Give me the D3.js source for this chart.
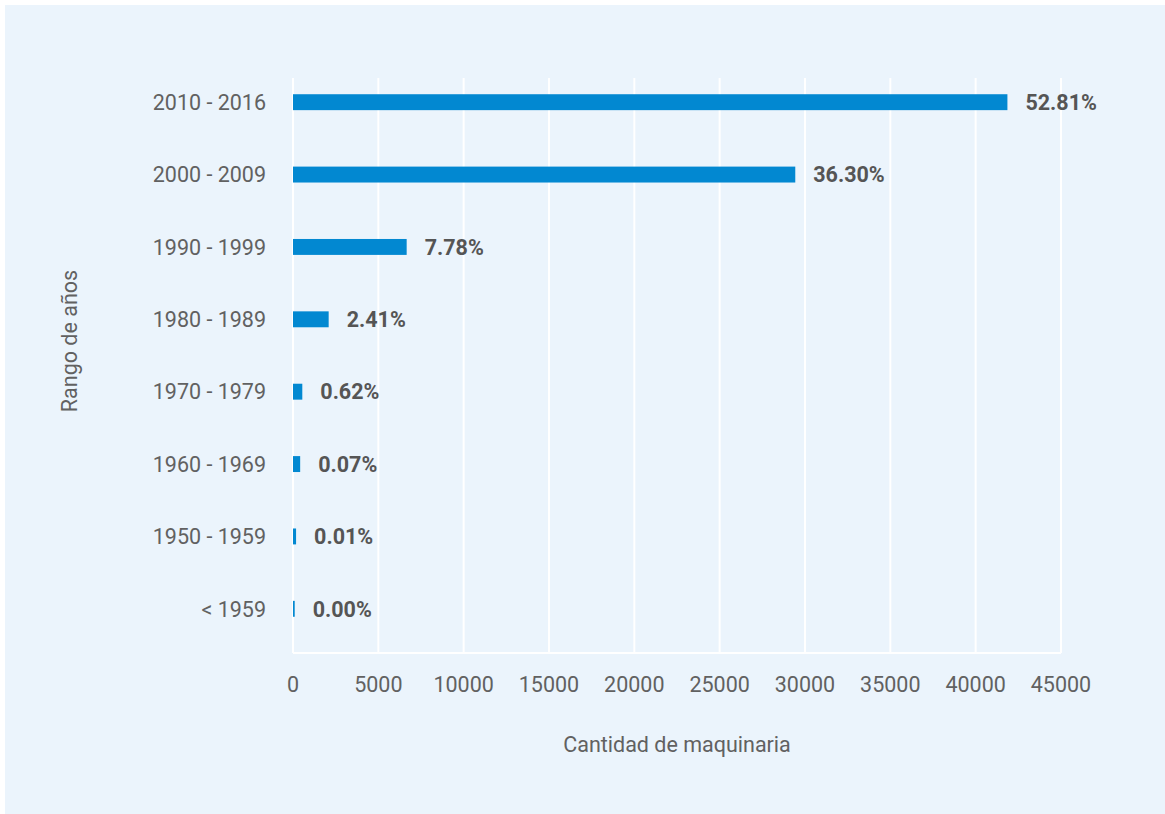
<!DOCTYPE html>
<html>
<head>
<meta charset="utf-8">
<script src="https://cdn.jsdelivr.net/npm/d3@7"></script>
<style>
  body { margin: 0; background: #fff; }
  text { font-family: Roboto, "Noto Sans", sans-serif; }
</style>
</head>
<body>
<div id="chart"></div>
<script>
// Datos del gráfico
const rangos = ["2010 - 2016", "2000 - 2009", "1990 - 1999", "1980 - 1989",
                "1970 - 1979", "1960 - 1969", "1950 - 1959", "< 1959"];
const cantidades = [41860, 29430, 6660, 2090, 545, 420, 180, 100];
const porcentajes = ["52.81%", "36.30%", "7.78%", "2.41%", "0.62%", "0.07%", "0.01%", "0.00%"];
const ticksX = [0, 5000, 10000, 15000, 20000, 25000, 30000, 35000, 40000, 45000];

const width = 1165;
const height = 814;
const margin = { left: 293, right: 104, top: 66, bottom: 169 };
const fontSize = 21.5;

const svg = d3.select("#chart")
    .append("svg")
    .attr("width", width)
    .attr("height", height);

// Fondo azul claro
svg.append("rect")
    .attr("x", 5)
    .attr("y", 5)
    .attr("width", width - 5)
    .attr("height", height - 5)
    .attr("fill", "#ebf4fc");

// Escalas
const x = d3.scaleLinear()
    .domain([0, 45000])
    .range([margin.left, width - margin.right]);

const y = d3.scaleBand()
    .domain(rangos)
    .range([margin.top, height - margin.bottom])
    .paddingInner(0.78)
    .paddingOuter(0.39);

const gridTop = 78;
const gridBottom = 653;

// Líneas de cuadrícula verticales
svg.append("g")
    .selectAll("line")
    .data(ticksX)
    .enter().append("line")
    .attr("x1", d => x(d))
    .attr("x2", d => x(d))
    .attr("y1", gridTop)
    .attr("y2", gridBottom)
    .attr("stroke", "#ffffff")
    .attr("stroke-width", 2);

// Línea del eje x
svg.append("line")
    .attr("x1", x(0))
    .attr("x2", x(45000))
    .attr("y1", gridBottom)
    .attr("y2", gridBottom)
    .attr("stroke", "#ffffff")
    .attr("stroke-width", 2);

// Barras
svg.append("g")
    .selectAll("rect")
    .data(rangos)
    .enter().append("rect")
    .attr("x", x(0))
    .attr("y", d => y(d))
    .attr("width", (d, i) => x(cantidades[i]) - x(0))
    .attr("height", y.bandwidth())
    .attr("fill", "#0288d1");

// Etiquetas de porcentaje
svg.append("g")
    .selectAll("text")
    .data(rangos)
    .enter().append("text")
    .attr("x", (d, i) => x(cantidades[i]) + 18)
    .attr("y", d => y(d) + y.bandwidth() / 2)
    .attr("dy", "0.36em")
    .attr("font-size", fontSize)
    .attr("font-weight", "bold")
    .attr("fill", "#555555")
    .text((d, i) => porcentajes[i]);

// Etiquetas del eje y
svg.append("g")
    .selectAll("text")
    .data(rangos)
    .enter().append("text")
    .attr("x", 266)
    .attr("y", d => y(d) + y.bandwidth() / 2)
    .attr("dy", "0.36em")
    .attr("text-anchor", "end")
    .attr("font-size", fontSize)
    .attr("fill", "#616161")
    .text(d => d);

// Etiquetas del eje x
svg.append("g")
    .selectAll("text")
    .data(ticksX)
    .enter().append("text")
    .attr("x", d => x(d))
    .attr("y", 692)
    .attr("text-anchor", "middle")
    .attr("font-size", fontSize)
    .attr("fill", "#616161")
    .text(d => d);

// Títulos de los ejes
svg.append("text")
    .attr("x", 677)
    .attr("y", 752)
    .attr("text-anchor", "middle")
    .attr("font-size", fontSize)
    .attr("fill", "#616161")
    .text("Cantidad de maquinaria");

svg.append("text")
    .attr("transform", "translate(77,341) rotate(-90)")
    .attr("text-anchor", "middle")
    .attr("font-size", fontSize)
    .attr("fill", "#616161")
    .text("Rango de años");
</script>
</body>
</html>
